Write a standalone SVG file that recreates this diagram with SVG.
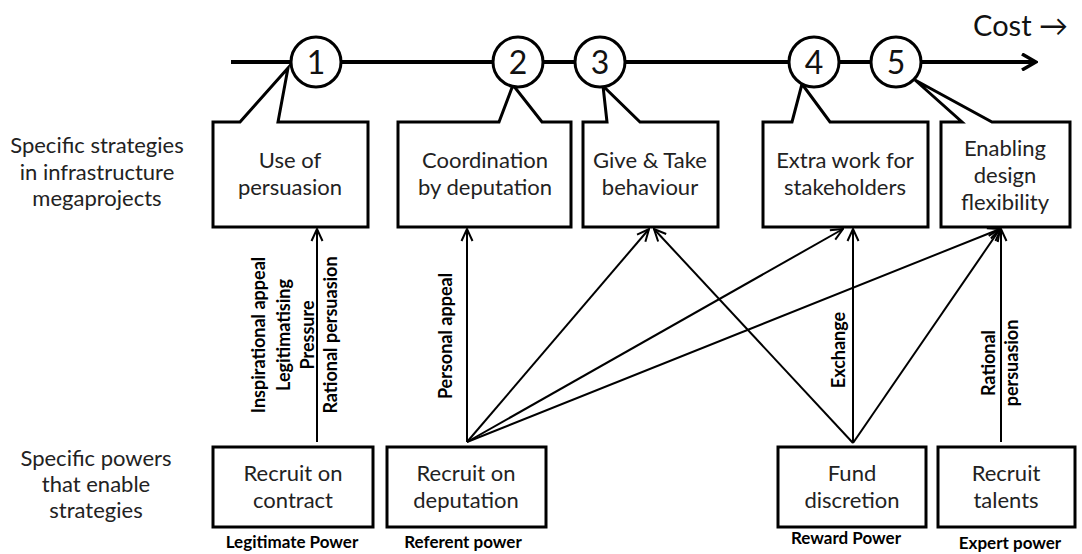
<svg xmlns="http://www.w3.org/2000/svg" width="1082" height="554" viewBox="0 0 1082 554">
<defs>
<marker id="ah" viewBox="0 0 14 14" refX="13" refY="7" markerWidth="14" markerHeight="14" markerUnits="userSpaceOnUse" orient="auto">
<path d="M1,1.5 L13,7 L1,12.5" fill="none" stroke="#000" stroke-width="2"/>
</marker>
<marker id="ahBig" viewBox="0 0 18 18" refX="16" refY="9" markerWidth="18" markerHeight="18" markerUnits="userSpaceOnUse" orient="auto">
<path d="M2,1 L16,9 L2,17" fill="none" stroke="#000" stroke-width="3.5"/>
</marker>
</defs>
<style>
text{font-family:Lato,"Liberation Sans",sans-serif;fill:#222}
.box{fill:#fff;stroke:#000;stroke-width:3}
.circ{fill:#fff;stroke:#000;stroke-width:3}
.num{font-size:32px;text-anchor:middle;fill:#111}
.bt{font-size:22px;text-anchor:middle}
.side{font-size:22px;text-anchor:middle}
.pw{font-size:17px;font-weight:bold;text-anchor:middle;fill:#000}
.lbl{font-size:18px;font-weight:bold;text-anchor:middle;fill:#000}
.con{stroke:#000;stroke-width:2;fill:none;marker-end:url(#ah)}
</style>
<rect width="1082" height="554" fill="#fff"/>

<g id="axis">
<line x1="231" y1="62" x2="1036" y2="62" stroke="#000" stroke-width="4" marker-end="url(#ahBig)"/>
<text x="1068" y="36" style="font-size:29px;text-anchor:end;fill:#111">Cost →</text>
</g>

<g id="side-labels">
<text class="side" x="97" y="153">Specific strategies</text>
<text class="side" x="97" y="180">in infrastructure</text>
<text class="side" x="97" y="206">megaprojects</text>
<text class="side" x="96" y="466">Specific powers</text>
<text class="side" x="96" y="492">that enable</text>
<text class="side" x="96" y="518">strategies</text>
</g>

<g id="s1">
<path class="box" d="M213,122 H240 L288,68 L278,122 H368 V227 H213 Z"/>
<text class="bt" x="290" y="168">Use of</text>
<text class="bt" x="290" y="195">persuasion</text>
</g>
<g id="s2">
<path class="box" d="M398,122 H499 L513,85 L542,122 H571 V227 H398 Z"/>
<text class="bt" x="485" y="168">Coordination</text>
<text class="bt" x="485" y="195">by deputation</text>
</g>
<g id="s3">
<path class="box" d="M583,122 H607 L603,86 L640,122 H718 V227 H583 Z"/>
<text class="bt" x="650" y="168">Give &amp; Take</text>
<text class="bt" x="650" y="195">behaviour</text>
</g>
<g id="s4">
<path class="box" d="M763,122 H792 L802,84 L830,122 H928 V227 H763 Z"/>
<text class="bt" x="845" y="168">Extra work for</text>
<text class="bt" x="845" y="195">stakeholders</text>
</g>
<g id="s5">
<path class="box" d="M941,122 H962 L915,80 L992,122 H1070 V227 H941 Z"/>
<text class="bt" x="1005" y="156">Enabling</text>
<text class="bt" x="1005" y="183">design</text>
<text class="bt" x="1005" y="210">flexibility</text>
</g>

<g id="c1"><circle class="circ" cx="316" cy="62" r="25"/><text class="num" x="316" y="74">1</text></g>
<g id="c2"><circle class="circ" cx="518" cy="62" r="25"/><text class="num" x="518" y="74">2</text></g>
<g id="c3"><circle class="circ" cx="600" cy="62" r="25"/><text class="num" x="600" y="74">3</text></g>
<g id="c4"><circle class="circ" cx="814" cy="62" r="25"/><text class="num" x="814" y="74">4</text></g>
<g id="c5"><circle class="circ" cx="896" cy="62" r="25"/><text class="num" x="896" y="74">5</text></g>

<g id="p1">
<rect class="box" x="213" y="447" width="160" height="80"/>
<text class="bt" x="293" y="481">Recruit  on</text>
<text class="bt" x="293" y="508">contract</text>
<text class="pw" x="292" y="548">Legitimate Power</text>
</g>
<g id="p2">
<rect class="box" x="387" y="447" width="159" height="80"/>
<text class="bt" x="466" y="481">Recruit  on</text>
<text class="bt" x="466" y="508">deputation</text>
<text class="pw" x="463" y="548">Referent power</text>
</g>
<g id="p3">
<rect class="box" x="778" y="447" width="148" height="80"/>
<text class="bt" x="852" y="481">Fund</text>
<text class="bt" x="852" y="508">discretion</text>
<text class="pw" x="846" y="544">Reward Power</text>
</g>
<g id="p4">
<rect class="box" x="938" y="447" width="137" height="80"/>
<text class="bt" x="1006" y="481">Recruit</text>
<text class="bt" x="1006" y="508">talents</text>
<text class="pw" x="1010" y="549">Expert power</text>
</g>

<g id="connectors">
<line class="con" x1="317" y1="442" x2="317" y2="229"/>
<line class="con" x1="467" y1="442" x2="467" y2="229"/>
<line class="con" x1="467" y1="442" x2="649" y2="229"/>
<line class="con" x1="467" y1="442" x2="843" y2="229"/>
<line class="con" x1="467" y1="442" x2="1000" y2="229"/>
<line class="con" x1="853" y1="443" x2="654" y2="229"/>
<line class="con" x1="853" y1="443" x2="853" y2="229"/>
<line class="con" x1="853" y1="443" x2="1000" y2="229"/>
<line class="con" x1="1001" y1="442" x2="1001" y2="229"/>
</g>

<g id="connector-labels">
<text class="lbl" transform="translate(265,335) rotate(-90)">Inspirational appeal</text>
<text class="lbl" transform="translate(290,335) rotate(-90)">Legitimatising</text>
<text class="lbl" transform="translate(314,335) rotate(-90)">Pressure</text>
<text class="lbl" transform="translate(337,335) rotate(-90)">Rational persuasion</text>
<text class="lbl" transform="translate(452,336) rotate(-90)">Personal appeal</text>
<text class="lbl" transform="translate(845,350) rotate(-90)">Exchange</text>
<text class="lbl" transform="translate(995,363) rotate(-90)">Rational</text>
<text class="lbl" transform="translate(1018,363) rotate(-90)">persuasion</text>
</g>
</svg>
